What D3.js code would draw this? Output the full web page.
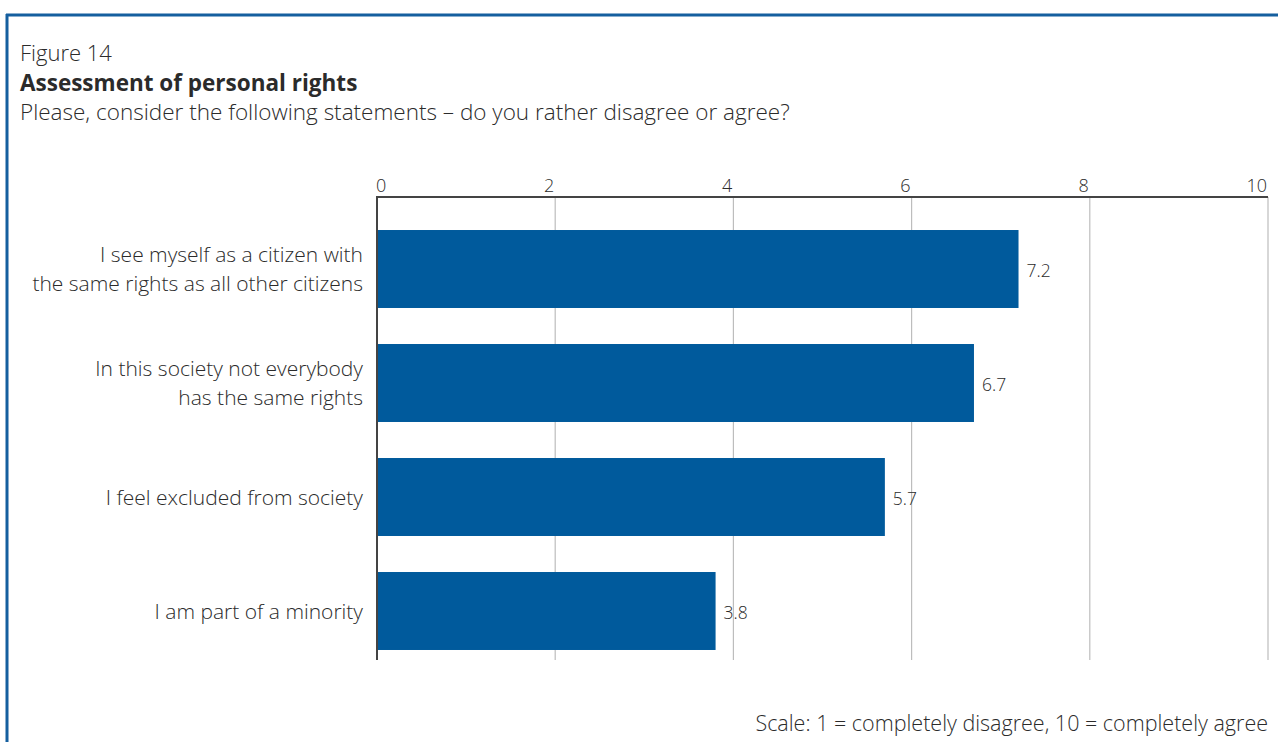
<!DOCTYPE html>
<html>
<head>
<meta charset="utf-8">
<script src="https://cdn.jsdelivr.net/npm/d3@7"></script>
<style>
  html, body { margin: 0; padding: 0; background: #fff; }
  svg { display: block; font-family: "Open Sans", "Noto Sans", sans-serif; }
</style>
</head>
<body>
<svg id="chart" width="1278" height="742"></svg>
<script>
// Survey statements (each split over display lines) and their mean scores
const statements = [
  ["I see myself as a citizen with", "the same rights as all other citizens"],
  ["In this society not everybody", "has the same rights"],
  ["I feel excluded from society"],
  ["I am part of a minority"]
];
const scores = [7.2, 6.7, 5.7, 3.8];
const scoreLabels = ["7.2", "6.7", "5.7", "3.8"];
const tickValues = [0, 2, 4, 6, 8, 10];
const tickLabels = ["0", "2", "4", "6", "8", "10"];

const svg = d3.select("#chart");
const textColor = "#2b2b2b";
const barColor = "#005a9c";
const frameColor = "#155f9f";

// Frame: top and left rule
svg.append("line").attr("x1", 6).attr("x2", 1278).attr("y1", 15).attr("y2", 15)
  .attr("stroke", frameColor).attr("stroke-width", 3);
svg.append("line").attr("x1", 7).attr("x2", 7).attr("y1", 14).attr("y2", 742)
  .attr("stroke", frameColor).attr("stroke-width", 3);

// Headings
svg.append("text").attr("x", 20).attr("y", 61).attr("font-size", 22)
  .attr("font-weight", 300).attr("fill", textColor).text("Figure 14");
svg.append("text").attr("x", 20).attr("y", 91).attr("font-size", 22.5)
  .attr("font-weight", 700).attr("fill", textColor).text("Assessment of personal rights");
svg.append("text").attr("x", 20).attr("y", 120).attr("font-size", 22.5)
  .attr("font-weight", 300).attr("fill", textColor)
  .text("Please, consider the following statements – do you rather disagree or agree?");

// Scales
const plotTop = 197, plotBottom = 660;
const x = d3.scaleLinear().domain([0, 10]).range([377, 1268]);
const y = d3.scaleBand().domain(d3.range(statements.length))
  .range([212, 668]).paddingInner(0.316).paddingOuter(0.158);

// Vertical gridlines
svg.append("g").selectAll("line").data(tickValues.slice(1)).join("line")
  .attr("x1", d => x(d)).attr("x2", d => x(d))
  .attr("y1", plotTop).attr("y2", plotBottom)
  .attr("stroke", "#bdbdbd").attr("stroke-width", 1.2);

// Tick labels above the axis
svg.append("g").selectAll("text").data(tickValues).join("text")
  .attr("x", d => x(d) - 1)
  .attr("y", 192)
  .attr("text-anchor", (d, i) => i === 0 ? "start" : "end")
  .attr("font-size", 18).attr("font-weight", 300).attr("fill", textColor)
  .text((d, i) => tickLabels[i]);

// Bars
svg.append("g").selectAll("rect").data(scores).join("rect")
  .attr("x", x(0)).attr("y", (d, i) => y(i))
  .attr("width", d => x(d) - x(0)).attr("height", y.bandwidth())
  .attr("fill", barColor);

// Value labels
svg.append("g").selectAll("text").data(scores).join("text")
  .attr("x", d => x(d) + 8)
  .attr("y", (d, i) => y(i) + y.bandwidth() / 2 + 8)
  .attr("font-size", 17.5).attr("font-weight", 300).attr("fill", textColor)
  .text((d, i) => scoreLabels[i]);

// Axis lines (top and left)
svg.append("line").attr("x1", x(0)).attr("x2", x(10)).attr("y1", plotTop).attr("y2", plotTop)
  .attr("stroke", "#444").attr("stroke-width", 2);
svg.append("line").attr("x1", x(0)).attr("x2", x(0)).attr("y1", plotTop - 1).attr("y2", plotBottom)
  .attr("stroke", "#444").attr("stroke-width", 2);

// Category labels, right aligned against the axis
const lineH = 29;
const catG = svg.append("g").selectAll("text").data(statements).join("text")
  .attr("text-anchor", "end")
  .attr("font-size", 21).attr("font-weight", 300).attr("fill", textColor);
catG.each(function(lines, i) {
  const cy = y(i) + y.bandwidth() / 2;
  const first = cy - (lines.length - 1) * lineH / 2 + 7.5;
  d3.select(this).selectAll("tspan").data(lines).join("tspan")
    .attr("x", 363).attr("y", (d, j) => first + j * lineH).text(d => d);
});

// Scale note
svg.append("text").attr("x", 1268).attr("y", 731).attr("text-anchor", "end")
  .attr("font-size", 21.5).attr("font-weight", 300).attr("fill", textColor)
  .text("Scale: 1 = completely disagree, 10 = completely agree");
</script>
</body>
</html>
